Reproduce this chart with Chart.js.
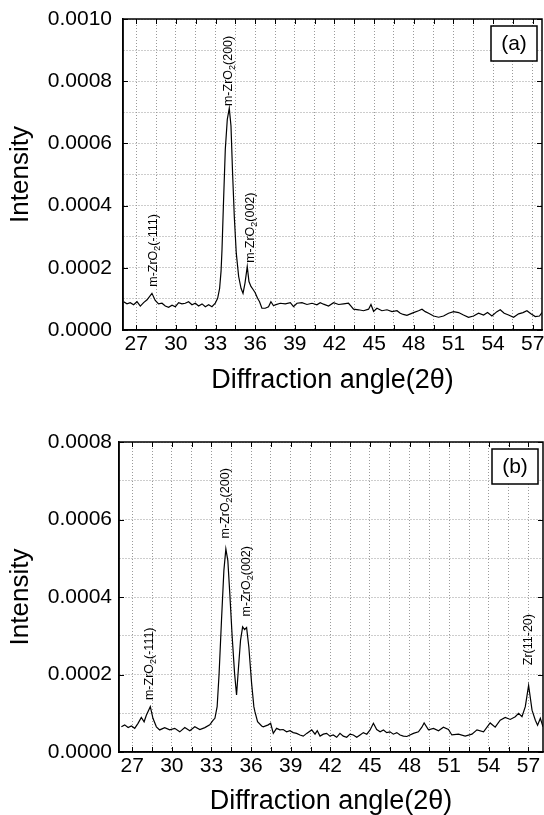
<!DOCTYPE html>
<html>
<head>
<meta charset="utf-8">
<script src="https://cdn.jsdelivr.net/npm/chart.js@4"></script>
<style>
  body { margin: 0; background: #fff; width: 544px; height: 815px; overflow: hidden; position: relative; }
  canvas { position: absolute; left: 0; }
  #chart-a { top: 0; }
  #chart-b { top: 410px; }
</style>
</head>
<body>
<canvas id="chart-a" width="544" height="410"></canvas>
<canvas id="chart-b" width="544" height="420"></canvas>
<script>
const FONT = '"Liberation Sans", Arial, sans-serif';
const UNIT = 1e-4; // intensities below are written in units of 1e-4

// ---- panel (a) ----
const angleA = [
  26.05, 26.30, 26.55, 26.80, 27.06, 27.31, 27.56, 27.82, 28.19, 28.44,
  28.69, 28.95, 29.20, 29.45, 29.71, 29.96, 30.21, 30.46, 30.71, 30.96,
  31.22, 31.47, 31.72, 31.98, 32.23, 32.48, 32.73, 32.98, 33.16, 33.31,
  33.42, 33.49, 33.61, 33.74, 33.89, 34.04, 34.17, 34.29, 34.42, 34.57,
  34.75, 34.93, 35.08, 35.23, 35.40, 35.53, 35.68, 35.83, 36.00, 36.18,
  36.33, 36.51, 36.76, 37.01, 37.19, 37.39, 37.52, 37.90, 38.28, 38.66,
  38.90, 39.16, 39.54, 39.92, 40.30, 40.67, 40.92, 41.17, 41.55, 41.93,
  42.31, 42.69, 43.06, 43.25, 43.44, 43.82, 44.20, 44.58, 44.76, 44.96,
  45.21, 45.59, 45.97, 46.35, 46.73, 46.98, 47.20, 47.48, 47.98, 48.36,
  48.62, 48.87, 49.12, 49.50, 49.88, 50.25, 50.63, 51.01, 51.39, 51.76,
  52.14, 52.52, 52.90, 53.28, 53.58, 53.91, 54.29, 54.54, 54.84, 55.17,
  55.55, 55.93, 56.26, 56.56, 56.86, 57.19, 57.51, 57.70
];
const intensityA = [
  0.91, 0.84, 0.88, 0.81, 0.91, 0.77, 0.88, 0.97, 1.18, 0.95,
  0.84, 0.86, 0.77, 0.73, 0.80, 0.75, 0.88, 0.84, 0.86, 0.91,
  0.81, 0.86, 0.77, 0.84, 0.75, 0.81, 0.75, 0.86, 1.02, 1.34,
  1.90, 2.58, 4.19, 5.81, 6.77, 7.13, 6.56, 5.05, 3.65, 2.47,
  1.72, 1.34, 1.18, 1.51, 2.04, 1.56, 1.40, 1.31, 1.20, 1.02,
  0.91, 0.70, 0.70, 0.75, 0.91, 0.78, 0.81, 0.86, 0.84, 0.88,
  0.75, 0.86, 0.88, 0.82, 0.86, 0.81, 0.88, 0.83, 0.77, 0.88,
  0.82, 0.84, 0.86, 0.77, 0.67, 0.65, 0.62, 0.67, 0.82, 0.60,
  0.70, 0.62, 0.65, 0.59, 0.62, 0.54, 0.50, 0.47, 0.56, 0.62,
  0.67, 0.59, 0.54, 0.45, 0.41, 0.45, 0.54, 0.59, 0.56, 0.48,
  0.41, 0.45, 0.54, 0.48, 0.56, 0.45, 0.59, 0.65, 0.54, 0.48,
  0.41, 0.52, 0.56, 0.62, 0.52, 0.43, 0.45, 0.56
];
const yTicksA = [0, 1, 2, 3, 4, 5, 6, 7, 8, 9, 10];
const peakAngleA = [28.31, 33.99, 35.68];
const peakBaseA = [1.39, 7.20, 2.16];
const peakTextA = [["m-ZrO", "2", "(-111)"], ["m-ZrO", "2", "(200)"], ["m-ZrO", "2", "(002)"]];

// ---- panel (b) ----
const angleB = [
  26.18, 26.43, 26.69, 26.94, 27.19, 27.44, 27.69, 27.90, 28.07, 28.37,
  28.57, 28.83, 29.08, 29.46, 29.84, 30.22, 30.60, 30.98, 31.36, 31.74,
  32.12, 32.50, 32.87, 33.13, 33.26, 33.43, 33.58, 33.76, 33.94, 34.09,
  34.24, 34.39, 34.57, 34.75, 34.90, 35.05, 35.20, 35.36, 35.51, 35.66,
  35.83, 36.04, 36.21, 36.29, 36.49, 36.80, 36.92, 37.30, 37.48, 37.68,
  37.93, 38.18, 38.43, 38.69, 38.94, 39.19, 39.45, 39.70, 39.95, 40.21,
  40.59, 40.84, 41.01, 41.22, 41.47, 41.72, 41.97, 42.22, 42.48, 42.73,
  42.98, 43.24, 43.49, 43.74, 44.00, 44.25, 44.50, 44.76, 45.01, 45.26,
  45.51, 45.77, 46.02, 46.27, 46.52, 46.77, 47.03, 47.28, 47.53, 47.79,
  48.29, 48.67, 48.93, 49.10, 49.43, 49.81, 50.19, 50.56, 50.94, 51.20,
  51.70, 52.21, 52.72, 53.10, 53.60, 54.10, 54.48, 54.86, 55.24, 55.62,
  56.00, 56.25, 56.51, 56.76, 57.01, 57.27, 57.52, 57.69, 57.90, 58.10
];
const intensityB = [
  0.65, 0.70, 0.63, 0.67, 0.61, 0.74, 0.89, 0.78, 0.95, 1.17,
  0.87, 0.65, 0.57, 0.63, 0.57, 0.61, 0.52, 0.63, 0.55, 0.65,
  0.58, 0.63, 0.70, 0.82, 0.87, 1.17, 2.03, 3.40, 4.68, 5.24,
  4.94, 4.08, 2.97, 2.03, 1.47, 2.20, 2.88, 3.23, 3.16, 3.21,
  2.71, 1.77, 1.17, 1.04, 0.78, 0.67, 0.65, 0.70, 0.74, 0.48,
  0.61, 0.57, 0.58, 0.52, 0.55, 0.50, 0.48, 0.44, 0.41, 0.48,
  0.57, 0.46, 0.55, 0.41, 0.46, 0.48, 0.41, 0.44, 0.38, 0.48,
  0.41, 0.38, 0.46, 0.44, 0.38, 0.44, 0.50, 0.46, 0.57, 0.74,
  0.58, 0.52, 0.57, 0.50, 0.52, 0.46, 0.50, 0.44, 0.41, 0.40,
  0.48, 0.52, 0.64, 0.75, 0.57, 0.61, 0.55, 0.64, 0.58, 0.44,
  0.46, 0.41, 0.46, 0.57, 0.52, 0.75, 0.64, 0.82, 0.89, 0.84,
  0.91, 1.00, 0.91, 1.17, 1.72, 1.08, 0.82, 0.69, 0.87, 0.65
];
const yTicksB = [0, 1, 2, 3, 4, 5, 6, 7, 8];
const peakAngleB = [28.33, 34.09, 35.66, 57.01];
const peakBaseB = [1.34, 5.51, 3.50, 2.24];
const peakTextB = [["m-ZrO", "2", "(-111)"], ["m-ZrO", "2", "(200)"], ["m-ZrO", "2", "(002)"], ["Zr(11-20)", "", ""]];

// shared x ticks (grid every 1.5, labels every 3)
const angleTicks = [27, 28.5, 30, 31.5, 33, 34.5, 36, 37.5, 39, 40.5, 42, 43.5, 45, 46.5, 48, 49.5, 51, 52.5, 54, 55.5, 57];

Chart.defaults.font.family = FONT;
Chart.defaults.color = "#000";

// frame, inward ticks, panel tag and peak labels
function decorations(tag, angles, bases, texts) {
  return {
    id: "decor",
    afterDatasetsDraw(chart) {
      const { ctx, scales: { x, y } } = chart;
      ctx.save();
      ctx.fillStyle = "#000";
      ctx.textBaseline = "middle";
      ctx.textAlign = "left";
      angles.forEach((ang, i) => {
        const px = x.getPixelForValue(ang);
        const py = y.getPixelForValue(bases[i] * UNIT);
        const [pre, sub, post] = texts[i];
        ctx.save();
        ctx.translate(px, py);
        ctx.rotate(-Math.PI / 2);
        ctx.font = "12.5px " + FONT;
        ctx.fillText(pre, 0, 0);
        let cx = ctx.measureText(pre).width;
        if (sub) {
          ctx.font = "9px " + FONT;
          ctx.fillText(sub, cx, 4);
          cx += ctx.measureText(sub).width;
        }
        ctx.font = "12.5px " + FONT;
        ctx.fillText(post, cx, 0);
        ctx.restore();
      });
      ctx.restore();
    },
    afterDraw(chart) {
      const { ctx, chartArea: a, scales: { x, y } } = chart;
      ctx.save();
      ctx.strokeStyle = "#000";
      ctx.lineWidth = 1;
      ctx.beginPath();
      x.ticks.forEach(t => {
        const px = Math.round(x.getPixelForValue(t.value)) + 0.5;
        ctx.moveTo(px, a.bottom); ctx.lineTo(px, a.bottom - 5);
        ctx.moveTo(px, a.top); ctx.lineTo(px, a.top + 5);
      });
      y.ticks.forEach((t, i) => {
        if (i % 2) return;
        const py = Math.round(y.getPixelForValue(t.value)) + 0.5;
        ctx.moveTo(a.left, py); ctx.lineTo(a.left + 5, py);
        ctx.moveTo(a.right, py); ctx.lineTo(a.right - 5, py);
      });
      ctx.stroke();
      ctx.lineWidth = 1.5;
      ctx.strokeRect(a.left, a.top, a.right - a.left, a.bottom - a.top);

      // (a)/(b) box
      const bw = 46, bh = 35;
      const bx = a.right - bw - 5, by = a.top + 7;
      ctx.fillStyle = "#fff";
      ctx.fillRect(bx, by, bw, bh);
      ctx.lineWidth = 1.5;
      ctx.strokeRect(bx, by, bw, bh);
      ctx.fillStyle = "#000";
      ctx.font = "21px " + FONT;
      ctx.textAlign = "center";
      ctx.textBaseline = "middle";
      ctx.fillText(tag, bx + bw / 2, by + bh / 2 + 1);
      ctx.restore();
    }
  };
}

function makePanel(id, angles, values, xMax, yTicks, layout, tag, pAng, pBase, pText) {
  const ctx = document.getElementById(id).getContext("2d");
  return new Chart(ctx, {
    type: "line",
    data: {
      datasets: [{
        data: angles.map((a, i) => ({ x: a, y: values[i] * UNIT })),
        borderColor: "#000",
        borderWidth: 1.2,
        pointRadius: 0,
        tension: 0,
        fill: false
      }]
    },
    options: {
      responsive: false,
      animation: false,
      layout: { padding: { top: layout.top, right: layout.right, left: 0, bottom: 0 } },
      plugins: { legend: { display: false }, tooltip: { enabled: false } },
      scales: {
        x: {
          type: "linear",
          min: 26,
          max: xMax,
          afterBuildTicks: s => { s.ticks = angleTicks.map(v => ({ value: v })); },
          afterFit: s => { s.height = layout.xHeight; s.paddingLeft = 0; s.paddingRight = 0; },
          ticks: {
            autoSkip: false,
            maxRotation: 0,
            padding: 2,
            font: { size: 21 },
            callback: v => (v % 3 === 0 ? String(v) : "")
          },
          grid: { color: "#9a9a9a", lineWidth: 1, drawTicks: false },
          border: { display: true, color: "#000", width: 1.5, dash: [1, 2] },
          title: {
            display: true,
            text: "Diffraction angle(2\u03b8)",
            font: { size: 27 },
            padding: { top: 0, bottom: layout.titlePad }
          }
        },
        y: {
          type: "linear",
          min: 0,
          max: yTicks[yTicks.length - 1] * UNIT,
          afterBuildTicks: s => { s.ticks = yTicks.map(v => ({ value: v * UNIT })); },
          afterFit: s => { s.width = layout.yWidth; s.paddingTop = 0; s.paddingBottom = 0; },
          ticks: {
            padding: layout.yPad,
            font: { size: 21 },
            callback: (v, i) => (i % 2 === 0 ? v.toFixed(4) : "")
          },
          grid: { color: "#9a9a9a", lineWidth: 1, drawTicks: false },
          border: { display: true, color: "#000", width: 1.5, dash: [1, 2] },
          title: {
            display: true,
            text: "Intensity",
            font: { size: 26 },
            padding: { top: 5, bottom: 0 }
          }
        }
      }
    },
    plugins: [decorations(tag, pAng, pBase, pText)]
  });
}

makePanel("chart-a", angleA, intensityA, 57.7, yTicksA,
  { top: 19, right: 2, xHeight: 80, yWidth: 123, yPad: 11, titlePad: 13 },
  "(a)", peakAngleA, peakBaseA, peakTextA);

makePanel("chart-b", angleB, intensityB, 58.1, yTicksB,
  { top: 32, right: 1, xHeight: 78, yWidth: 119, yPad: 7, titlePad: 12 },
  "(b)", peakAngleB, peakBaseB, peakTextB);
</script>
</body>
</html>
